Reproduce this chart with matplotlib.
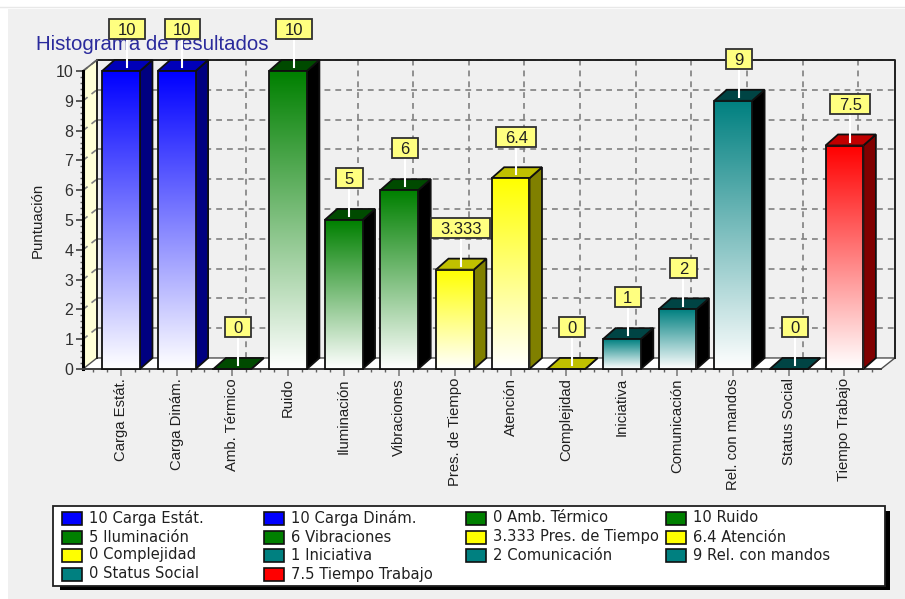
import numpy as np
import matplotlib
matplotlib.use('Agg')
import matplotlib.pyplot as plt
from matplotlib.colors import to_rgb
from matplotlib.patches import Polygon, Rectangle
from matplotlib.ticker import MultipleLocator

plt.rcParams['font.family'] = ['Liberation Sans', 'DejaVu Sans']

# datos del histograma
categorias = ['Carga Estát.', 'Carga Dinám.', 'Amb. Térmico', 'Ruido', 'Iluminación',
              'Vibraciones', 'Pres. de Tiempo', 'Atención', 'Complejidad', 'Iniciativa',
              'Comunicación', 'Rel. con mandos', 'Status Social', 'Tiempo Trabajo']
valores = [10, 10, 0, 10, 5, 6, 3.333, 6.4, 0, 1, 2, 9, 0, 7.5]
colores = ['#0000ff', '#0000ff', '#008000', '#008000', '#008000', '#008000', '#ffff00',
           '#ffff00', '#ffff00', '#008080', '#008080', '#008080', '#008080', '#ff0000']
color_techo = ['#0000b8', '#0000b8', '#004a00', '#004a00', '#004a00', '#004a00', '#c0c000',
               '#c0c000', '#c0c000', '#004444', '#004444', '#004444', '#004444', '#c00000']
color_lado = ['#000080', '#000080', '#000000', '#000000', '#000000', '#000000', '#808000',
              '#808000', '#808000', '#000000', '#000000', '#000000', '#000000', '#800000']

W, H = 905, 599
PANEL = '#f0f0f0'
REJILLA = '#808080'

# profundidad del efecto 3D, en unidades de los ejes
FONDO_X = 0.25
FONDO_Y = 0.37
LADO_X = 0.225
ANCHO = 0.68
X_MIN, X_MAX = -0.683, 13.657


def caja(x0, y0, x1, y1):
    # convierte una caja en pixeles (origen arriba) a coordenadas de figura
    return [x0 / W, 1 - y1 / H, (x1 - x0) / W, (y1 - y0) / H]


fig = plt.figure(figsize=(W / 100, H / 100), dpi=100, facecolor='white')
fig.add_artist(Rectangle((8 / W, 0), 897 / W, 590 / H, transform=fig.transFigure,
                         facecolor=PANEL, edgecolor='none', zorder=-5))
fig.add_artist(plt.Line2D([0, 1], [1 - 7 / H] * 2, color='#e8e8e8', lw=1, zorder=-5))

ax = fig.add_axes(caja(83, 71, 881, 369))
ax.patch.set_visible(False)
ax.set_xlim(X_MIN, X_MAX)
ax.set_ylim(0, 10)

# pared izquierda y suelo
ax.add_patch(Polygon([(X_MIN, 0), (X_MIN, 10), (X_MIN + FONDO_X, 10 + FONDO_Y), (X_MIN + FONDO_X, FONDO_Y)],
                     facecolor='#ffffd8', edgecolor='none', clip_on=False, zorder=1))
ax.add_patch(Polygon([(X_MIN, 0), (X_MIN + FONDO_X, FONDO_Y), (X_MAX + FONDO_X, FONDO_Y), (X_MAX, 0)],
                     facecolor='white', edgecolor='#505050', lw=1, clip_on=False, zorder=1))

# rejilla sobre la pared del fondo
estilo = dict(color=REJILLA, lw=1.2, dashes=(3.5, 3), clip_on=False, zorder=2)
for y in range(1, 11):
    ax.plot([X_MIN + FONDO_X, X_MAX + FONDO_X], [y + FONDO_Y] * 2, **estilo)
    ax.plot([X_MIN, X_MIN + FONDO_X], [y, y + FONDO_Y], **estilo)
for i in range(len(valores)):
    ax.plot([i + FONDO_X] * 2, [FONDO_Y, 10 + FONDO_Y], **estilo)

# marco de la pared del fondo
marco = dict(color='#202020', lw=1.4, clip_on=False, zorder=2)
ax.plot([X_MIN + FONDO_X] * 2, [FONDO_Y, 10 + FONDO_Y], **marco)
ax.plot([X_MIN + FONDO_X, X_MAX + FONDO_X, X_MAX + FONDO_X], [10 + FONDO_Y, 10 + FONDO_Y, FONDO_Y], **marco)
ax.plot([X_MIN, X_MIN + FONDO_X], [10, 10 + FONDO_Y], color='#606060', lw=1.2, clip_on=False, zorder=2)

# pixeles por unidad, para dar a las etiquetas un margen fijo
caja_ax = ax.get_window_extent()
px_x = caja_ax.width / (X_MAX - X_MIN)
px_y = caja_ax.height / 10
render = fig.canvas.get_renderer()

# barras: cara frontal con degradado, techo y lateral
for i, v in enumerate(valores):
    x0 = i - ANCHO / 2
    x1 = i + ANCHO / 2
    borde = dict(edgecolor='#101010', lw=1.3, clip_on=False, zorder=5)
    ax.add_patch(Polygon([(x1, 0), (x1, v), (x1 + LADO_X, v + FONDO_Y), (x1 + LADO_X, FONDO_Y)],
                         facecolor=color_lado[i], **borde))
    ax.add_patch(Polygon([(x0, v), (x1, v), (x1 + LADO_X, v + FONDO_Y), (x0 + LADO_X, v + FONDO_Y)],
                         facecolor=color_techo[i], **borde))
    if v > 0:
        t = np.linspace(0, 1, 128)[:, None, None]
        grad = np.array(to_rgb(colores[i]))[None, None, :] * (1 - t) + t
        ax.imshow(grad, extent=(x0, x1, 0, v), aspect='auto', interpolation='bilinear', zorder=5)
        ax.add_patch(Rectangle((x0, 0), ANCHO, v, facecolor='none', **borde))
    else:
        ax.plot([x0, x1], [0, 0], color='#101010', lw=1.3, clip_on=False, zorder=5)

    # etiqueta con el valor, la caja se ajusta al ancho del texto
    xe = i + 0.105
    ye = v + 1.4
    alto = 20 / px_y
    ax.plot([xe, xe], [v + 0.13, ye - alto / 2], color='white', lw=1.5, clip_on=False, zorder=7)
    txt = ax.text(xe, ye, f'{v:g}', ha='center', va='center_baseline', fontsize=12, color='#202020',
                  zorder=9, clip_on=False)
    ancho = (txt.get_window_extent(render).width + 17) / px_x
    ax.add_patch(Rectangle((xe - ancho / 2, ye - alto / 2), ancho, alto, facecolor='#ffff80',
                           edgecolor='#303030', lw=1.3, clip_on=False, zorder=8))

ax.set_xlim(X_MIN, X_MAX)
ax.set_ylim(0, 10)

ax.set_xticks(range(len(categorias)))
ax.set_xticklabels(categorias, rotation=90, fontsize=10.7, color='#202020')
ax.xaxis.set_minor_locator(MultipleLocator(0.25))
ax.yaxis.set_major_locator(MultipleLocator(1))
ax.yaxis.set_minor_locator(MultipleLocator(0.2))
ax.tick_params(axis='y', which='major', length=5, width=1.2, color='#404040', labelsize=11.5, labelcolor='#303030', pad=2)
ax.tick_params(axis='x', which='major', length=5, width=1.2, color='#808080', pad=1.5)
ax.tick_params(which='minor', length=2.5, width=1, color='#606060')

for lado in ['top', 'right']:
    ax.spines[lado].set_visible(False)
ax.spines['left'].set_linewidth(2.2)
ax.spines['left'].set_color('black')
ax.spines['bottom'].set_linewidth(1.4)
ax.spines['bottom'].set_color('#404040')

fig.text(36 / W, 1 - 44 / H, 'Histograma de resultados', fontsize=14.7, color='#2a2a9c', va='center', ha='left', zorder=-1)
fig.text(38 / W, 1 - 220 / H, 'Puntuación', fontsize=10.8, color='#202020', rotation=90, va='center', ha='center')

# leyenda en cuatro columnas, rellenando por filas
ley = fig.add_axes([0, 0, 1, 1], zorder=10)
ley.set_xlim(0, W)
ley.set_ylim(H, 0)
ley.axis('off')
ley.add_patch(Rectangle((60, 511), 830, 79, facecolor='black', edgecolor='none'))
ley.add_patch(Rectangle((53, 506), 832, 80, facecolor='white', edgecolor='#202020', lw=1.3))
col_x = [62, 263.5, 466, 666]
fila_y = [518, 537, 555, 574]
for i, (nombre, v) in enumerate(zip(categorias, valores)):
    fila, col = divmod(i, 4)
    ley.add_patch(Rectangle((col_x[col], fila_y[fila] - 6.5), 20, 13, facecolor=colores[i],
                            edgecolor='#101010', lw=1.2))
    ley.text(col_x[col] + 27, fila_y[fila], f'{v:g} {nombre}', fontsize=10.6, color='#202020',
             family='DejaVu Sans', va='center', ha='left')

fig.savefig('out.png', dpi=100)
